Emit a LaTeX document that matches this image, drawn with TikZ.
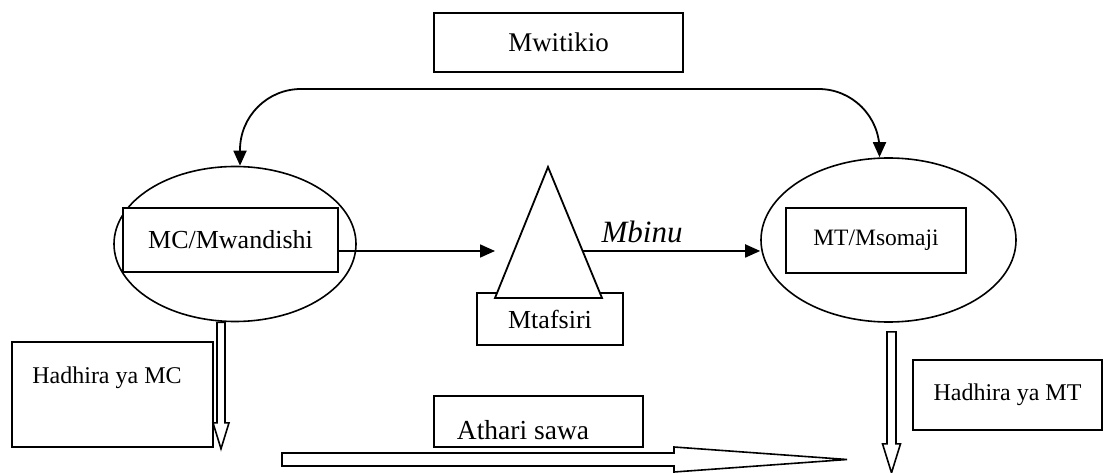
\documentclass[tikz,border=0pt]{standalone}
\usepackage{fontspec}
\setmainfont{Liberation Serif}
\usetikzlibrary{shapes.geometric,arrows.meta,calc}

\begin{document}
\begin{tikzpicture}
  [x=1pt,y=-1pt,line width=1.8pt,
   box node/.style={draw,rectangle,inner sep=0pt,fill=white,line width=2pt},
   oval node/.style={draw,ellipse,inner sep=0pt,line width=1.6pt},
   hollow arrow/.style={draw,fill=white,line width=1.6pt,line join=miter},
   flow/.style={-{Triangle[length=15pt,width=13pt]}}]

\useasboundingbox (0,0) rectangle (1108,473);

\node[box node,minimum width=249pt,minimum height=59pt,font=\fontsize{27}{32}\selectfont] (mwitikio) at (558.5,42.5) {Mwitikio};

\node[oval node,minimum width=242pt,minimum height=155pt] (mcoval) at (235,244) {};
\node[box node,minimum width=215pt,minimum height=64pt,font=\fontsize{26}{31}\selectfont] (mc) at (230.5,240) {MC/Mwandishi};

\node[oval node,minimum width=255pt,minimum height=164pt] (mtoval) at (888.5,240) {};
\node[box node,minimum width=180pt,minimum height=65pt,font=\fontsize{23.5}{28}\selectfont] (mt) at (876,240.5) {MT/Msomaji};

% mtafsiri and its triangle
\node[box node,minimum width=146pt,minimum height=52pt,font=\fontsize{26}{31}\selectfont] (mtafsiri) at (550,319) {Mtafsiri};
\coordinate (apex) at (548,167);
\coordinate (base left) at (495,298);
\coordinate (base right) at (602,298);
\filldraw[fill=white,line width=1.8pt] (apex) -- (base right) -- (base left) -- cycle;

\node[box node,minimum width=201pt,minimum height=105pt,align=center,font=\fontsize{24}{29}\selectfont] (hmc) at (112.5,394.5) {Hadhira ya MC\hspace*{11pt}\\[10pt]\mbox{}};
\node[box node,minimum width=189pt,minimum height=70pt,font=\fontsize{24}{29}\selectfont] (hmt) at (1007.5,395) {Hadhira ya MT};
\node[box node,minimum width=209pt,minimum height=51pt,
  label={[font=\fontsize{27.5}{32}\selectfont,xshift=-15.5pt,yshift=-8.5pt]center:Athari sawa}] (athari) at (538.5,421.5) {};

% arrows
\coordinate (tri in) at (495,251);
\coordinate (tri out) at ($(apex)!0.641!(base right)$);
\coordinate (loop top) at (558,89);

\draw[flow] ([yshift=-11pt]mc.east) -- (tri in);
\draw[flow] (tri out) -- (tri out -| mtoval.west)
  node[pos=0.335,anchor=base,yshift=8.5pt,font=\fontsize{31}{36}\selectfont\itshape] {Mbinu};
\draw[{Triangle[length=15pt,width=13pt]}-{Triangle[length=15pt,width=13pt]},rounded corners=61pt]
  ([xshift=5pt]mcoval.north) |- (loop top) -| ([xshift=-9pt]mtoval.north);

\coordinate (mc out) at ([xshift=-14.5pt]mcoval.south);
\coordinate (mt out) at ([xshift=3pt,yshift=-9pt]mtoval.south);
\coordinate (athari start) at (282,459.5);

\draw[hollow arrow] (mc out) ++(-3.5,0) -- ++(0,100.5) -- ++(-4,0) -- ++(8,26) -- ++(8,-26) -- ++(-4,0) -- ++(0,-100.5) -- cycle;
\draw[hollow arrow] (mt out) ++(-4.5,0) -- ++(0,112) -- ++(-4.5,0) -- ++(9,29) -- ++(9,-29) -- ++(-4.5,0) -- ++(0,-112) -- cycle;
\draw[hollow arrow] (athari start) ++(0,-6.5) -- ++(392,0) -- ++(0,-6) -- ++(173,12.5) -- ++(-173,12.5) -- ++(0,-6) -- ++(-392,0) -- cycle;

\end{tikzpicture}
\end{document}
